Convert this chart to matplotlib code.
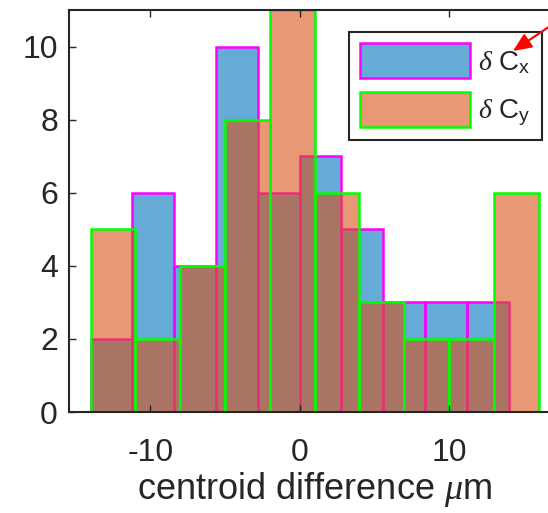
import numpy as np
import matplotlib
matplotlib.use("Agg")
import matplotlib.pyplot as plt

# histogram bin edges and counts for the two centroid offsets
edges_cx = [-14.0, -11.2, -8.4, -5.6, -2.8, 0.0, 2.8, 5.6, 8.4, 11.2, 14.0]
counts_cx = [2, 6, 4, 10, 6, 7, 5, 3, 3, 3]

edges_cy = [-14, -11, -8, -5, -2, 1, 4, 7, 10, 13, 16]
counts_cy = [5, 2, 4, 8, 11, 6, 3, 2, 2, 6]

x_ticks = [-10, 0, 10]
y_ticks = [0, 2, 4, 6, 8, 10]

label_cx = r'$\delta$ C$_{\mathrm{x}}$'
label_cy = r'$\delta$ C$_{\mathrm{y}}$'
x_label = r'centroid difference $\mu$m'

plt.rcParams['font.family'] = ['Liberation Sans', 'DejaVu Sans']
plt.rcParams['mathtext.fontset'] = 'custom'
plt.rcParams['mathtext.rm'] = 'Liberation Sans'
plt.rcParams['mathtext.it'] = 'Liberation Serif:italic'
plt.rcParams['axes.unicode_minus'] = False

text_col = '#262626'
blue = (0.0, 0.447, 0.741, 0.6)
orange = (0.851, 0.325, 0.098, 0.6)

fig = plt.figure(figsize=(5.48, 5.13), dpi=100)
W, H = 548, 513
x_min, x_max = -15.45, 17.5
px_per_unit = 14.93
ax_left, ax_top, ax_bottom = 69, 10, 412
ax_right = ax_left + (x_max - x_min) * px_per_unit
ax = fig.add_axes([ax_left / W, 1 - ax_bottom / H,
                   (ax_right - ax_left) / W, (ax_bottom - ax_top) / H])

ax.bar(edges_cx[:-1], counts_cx, width=np.diff(edges_cx), align='edge',
       facecolor=blue, edgecolor=(1, 0, 1), linewidth=1.8, label=label_cx)
ax.bar(edges_cy[:-1], counts_cy, width=np.diff(edges_cy), align='edge',
       facecolor=orange, edgecolor=(0, 1, 0), linewidth=1.8, label=label_cy)

ax.set_xlim(x_min, x_max)
ax.set_ylim(0, 11)
ax.set_xticks(x_ticks)
ax.set_yticks(y_ticks)
ax.set_xticklabels([str(v) for v in x_ticks])
ax.set_yticklabels([str(v) for v in y_ticks])

for sp in ax.spines.values():
    sp.set_linewidth(1.5)
    sp.set_color(text_col)

ax.tick_params(axis='both', direction='in', top=True, right=True,
               length=5, width=1, color=text_col, labelcolor=text_col,
               labelsize=23)
ax.tick_params(axis='x', pad=19)
ax.tick_params(axis='y', pad=8)

ax.set_xlabel(x_label, fontsize=26, color=text_col, labelpad=1)

leg = ax.legend(loc='upper right', bbox_to_anchor=(542 / W, 1 - 32 / H),
                bbox_transform=fig.transFigure, borderaxespad=0,
                fontsize=20, handlelength=3.95, handleheight=1.56,
                labelspacing=0.5, borderpad=0.4, handletextpad=0.3,
                fancybox=False, framealpha=1, edgecolor=text_col)
leg.get_frame().set_linewidth(1.5)
for t in leg.get_texts():
    t.set_color(text_col)

# red pointer towards the x-offset entry, drawn above the legend
ax.annotate('', xy=(513, H - 51), xycoords='figure pixels',
            xytext=(565, H - 16), textcoords='figure pixels',
            arrowprops=dict(arrowstyle='-|>,head_length=0.8,head_width=0.35',
                            color='red', lw=1.5, mutation_scale=14,
                            shrinkA=0, shrinkB=0),
            annotation_clip=False, zorder=10)

fig.savefig('out.png', dpi=100)
